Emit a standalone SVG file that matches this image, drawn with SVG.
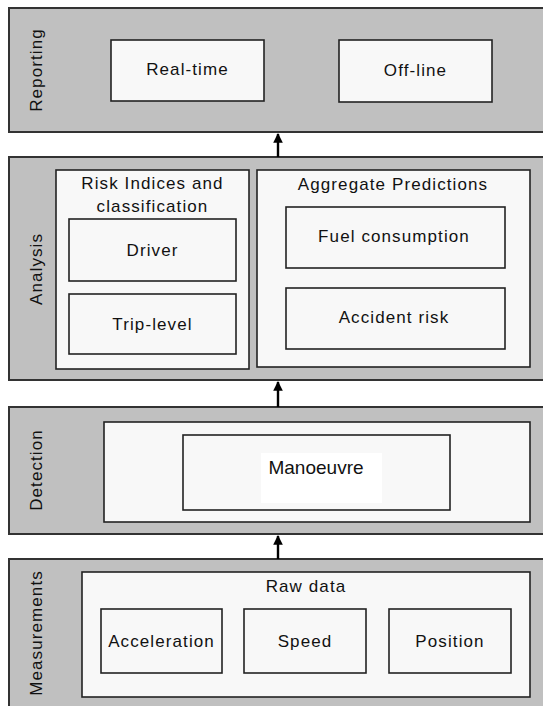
<svg xmlns="http://www.w3.org/2000/svg" width="543" height="706" viewBox="0 0 543 706">
<defs>
<style>
.band{fill:#c0c0c0;stroke:#333;stroke-width:2}
.panel{fill:#f8f8f8;stroke:#222;stroke-width:1.6}
.box{fill:#f8f8f8;stroke:#222;stroke-width:1.6}
text{font-family:"Liberation Sans",Arial,sans-serif;font-size:17px;fill:#111;letter-spacing:1.1px;text-anchor:middle}
.conn{stroke:#000;stroke-width:2.4;fill:none}
</style>
<marker id="ah" viewBox="0 0 10 10" refX="9" refY="5" markerWidth="4" markerHeight="4.5" orient="auto" markerUnits="strokeWidth">
<path d="M0,0 L10,5 L0,10 Z" fill="#000"/>
</marker>
</defs>
<rect width="543" height="706" fill="#fff"/>

<g id="reporting">
<rect class="band" x="9" y="8" width="545" height="124"/>
<text transform="translate(41.5,70) rotate(-90)">Reporting</text>
</g>
<g id="realtime">
<rect class="box" x="111" y="40" width="153" height="61"/>
<text x="187.5" y="75">Real-time</text>
</g>
<g id="offline">
<rect class="box" x="339" y="40" width="153" height="62"/>
<text x="415.5" y="76">Off-line</text>
</g>

<g id="analysis">
<rect class="band" x="9" y="157" width="545" height="223"/>
<text transform="translate(41.5,269) rotate(-90)">Analysis</text>
</g>
<g id="risk">
<rect class="panel" x="56" y="170" width="193" height="199"/>
<text x="152.5" y="189">Risk Indices and</text>
<text x="152.5" y="212">classification</text>
</g>
<g id="driver">
<rect class="box" x="69" y="219" width="167" height="62"/>
<text x="152.5" y="256">Driver</text>
</g>
<g id="triplevel">
<rect class="box" x="69" y="294" width="167" height="60"/>
<text x="152.5" y="330">Trip-level</text>
</g>
<g id="aggregate">
<rect class="panel" x="257" y="170" width="273" height="197"/>
<text x="393" y="190">Aggregate Predictions</text>
</g>
<g id="fuel">
<rect class="box" x="286" y="207" width="219" height="61"/>
<text x="394" y="242">Fuel consumption</text>
</g>
<g id="accident">
<rect class="box" x="286" y="288" width="219" height="61"/>
<text x="394" y="323">Accident risk</text>
</g>

<g id="detection">
<rect class="band" x="9" y="407" width="545" height="127"/>
<text transform="translate(41.5,470) rotate(-90)">Detection</text>
</g>
<g id="detection-panel">
<rect class="panel" x="104" y="422" width="426" height="100"/>
</g>
<g id="manoeuvre">
<rect class="box" x="183" y="435" width="267" height="75"/>
<rect x="261" y="453" width="121" height="50" fill="#fff"/>
<text x="316" y="474" style="font-size:19px;letter-spacing:0">Manoeuvre</text>
</g>

<g id="measurements">
<rect class="band" x="9" y="559" width="545" height="160"/>
<text transform="translate(41.5,633) rotate(-90)">Measurements</text>
</g>
<g id="rawdata">
<rect class="panel" x="82" y="572" width="448" height="125"/>
<text x="306" y="592">Raw data</text>
</g>
<g id="acceleration">
<rect class="box" x="101" y="609" width="121" height="64"/>
<text x="161.5" y="647">Acceleration</text>
</g>
<g id="speed">
<rect class="box" x="244" y="609" width="122" height="64"/>
<text x="305" y="647">Speed</text>
</g>
<g id="position">
<rect class="box" x="389" y="609" width="122" height="64"/>
<text x="450" y="647">Position</text>
</g>

<g id="connectors">
<line class="conn" x1="278" y1="157" x2="278" y2="134" marker-end="url(#ah)"/>
<line class="conn" x1="278" y1="407" x2="278" y2="382" marker-end="url(#ah)"/>
<line class="conn" x1="278" y1="559" x2="278" y2="536" marker-end="url(#ah)"/>
</g>
</svg>
